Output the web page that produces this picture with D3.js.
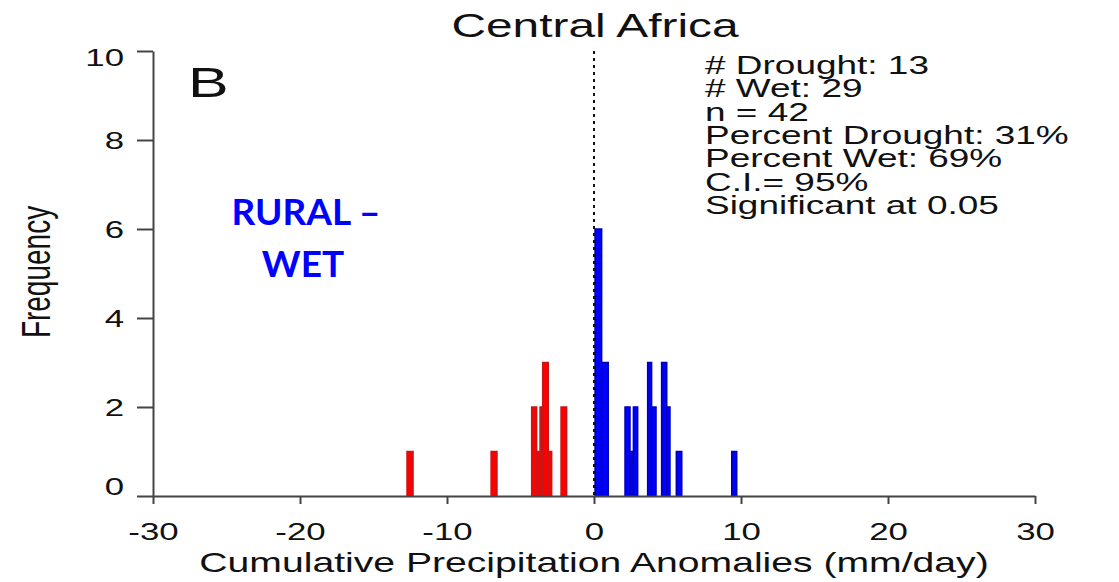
<!DOCTYPE html>
<html>
<head>
<meta charset="utf-8">
<script src="https://cdn.jsdelivr.net/npm/d3@7"></script>
<style>
  html, body { margin: 0; padding: 0; background: #fff; }
  svg { display: block; }
</style>
</head>
<body>
<svg id="chart" width="1119" height="582"></svg>
<script>
// histogram bins (mm/day) and frequencies
const binLeft = [-12.72, -7.0, -4.24, -3.90, -3.67, -3.49, -3.11, -2.24,
  0.07, 0.52, 2.11, 2.45, 2.68, 3.65, 3.92, 4.60, 4.95, 5.60, 9.37]
const binRight = [-12.31, -6.6, -3.90, -3.67, -3.49, -3.11, -2.88, -1.86,
  0.52, 0.97, 2.45, 2.68, 2.97, 3.92, 4.22, 4.95, 5.17, 5.97, 9.71]
const counts = [1, 1, 2, 1, 2, 3, 1, 2,
  6, 3, 2, 1, 2, 3, 2, 3, 2, 1, 1]

const xTicks = [-30, -20, -10, 0, 10, 20, 30]
const yTicks = [0, 2, 4, 6, 8, 10]

const infoLines = [
  '# Drought: 13',
  '# Wet: 29',
  'n = 42',
  'Percent Drought: 31%',
  'Percent Wet: 69%',
  'C.I.= 95%',
  'Significant at 0.05'
]
const noteLines = ['RURAL \u2013', 'WET']

// the original figure was stretched sideways, so text is too
const SX = 1.45
const FONT = 'Liberation Sans, Arial, Helvetica, sans-serif'

const svg = d3.select('#chart')

const x = d3.scaleLinear().domain([-30, 30]).range([153, 1035])
const y = d3.scaleLinear().domain([0, 10]).range([496, 51])

const bins = counts.map((c, i) => ({ x0: binLeft[i], x1: binRight[i], n: c }))

svg.append('g')
  .selectAll('rect')
  .data(bins)
  .join('rect')
  .attr('x', (d) => x(d.x0))
  .attr('y', (d) => y(d.n))
  .attr('width', (d) => x(d.x1) - x(d.x0))
  .attr('height', (d) => y(0) - y(d.n))
  .attr('fill', (d) => (d.x0 < 0 ? '#ff0000' : '#0000ff'))
  .attr('stroke', (d) => (d.x0 < 0 ? '#c41818' : '#0000b0'))
  .attr('stroke-width', 1.5)

// zero line
svg.append('line')
  .attr('x1', x(0)).attr('x2', x(0))
  .attr('y1', y(10)).attr('y2', y(0))
  .attr('stroke', '#111')
  .attr('stroke-width', 2)
  .attr('stroke-dasharray', '3,4')

// axes (plain hyphen minus like the original)
const xAxis = svg.append('g')
  .attr('transform', `translate(0,${y(0)})`)
  .call(d3.axisBottom(x).tickValues(xTicks).tickSize(8).tickSizeOuter(0).tickPadding(19)
    .tickFormat((d) => String(d)))

xAxis.selectAll('text')
  .attr('transform', `scale(${SX},1)`)
  .attr('font-size', 24)

const yAxis = svg.append('g')
  .attr('transform', `translate(${x(-30)},0)`)
  .call(d3.axisLeft(y).tickValues(yTicks).tickSize(16).tickSizeOuter(0).tickPadding(13)
    .tickFormat((d) => String(d)))

yAxis.selectAll('text')
  .attr('x', -29 / SX)
  .attr('dy', (d) => (d === 10 ? '0.62em' : d === 0 ? '-0.08em' : '0.34em'))
  .attr('transform', `scale(${SX},1)`)
  .attr('font-size', 24)

svg.selectAll('.domain, .tick line')
  .attr('stroke', '#444')
  .attr('stroke-width', 2)

svg.selectAll('.tick text')
  .attr('fill', '#111')
  .attr('font-family', FONT)

function stretchedText(px, py, str, size, anchor) {
  return svg.append('text')
    .attr('transform', `translate(${px},${py}) scale(${SX},1)`)
    .attr('text-anchor', anchor)
    .attr('font-family', FONT)
    .attr('font-size', size)
    .attr('fill', '#111')
    .text(str)
}

stretchedText(595, 37, 'Central Africa', 33, 'middle')
stretchedText(188, 97, 'B', 42, 'start')
stretchedText(594, 572, 'Cumulative Precipitation Anomalies (mm/day)', 27, 'middle')

svg.append('text')
  .attr('transform', `translate(50,272) scale(${SX},1) rotate(-90)`)
  .attr('text-anchor', 'middle')
  .attr('font-family', FONT)
  .attr('font-size', 28)
  .attr('fill', '#111')
  .text('Frequency')

infoLines.forEach((line, i) => {
  stretchedText(705, 74 + i * 23.3, line, 25.5, 'start')
})

svg.append('g')
  .selectAll('text')
  .data(noteLines)
  .join('text')
  .attr('x', (d, i) => (i === 0 ? 306 : 303))
  .attr('y', (d, i) => 225 + i * 52)
  .attr('text-anchor', 'middle')
  .attr('font-family', 'Lato, Liberation Sans, sans-serif')
  .attr('font-weight', 'bold')
  .attr('font-size', 37)
  .attr('fill', '#0000ff')
  .text((d) => d)
</script>
</body>
</html>
